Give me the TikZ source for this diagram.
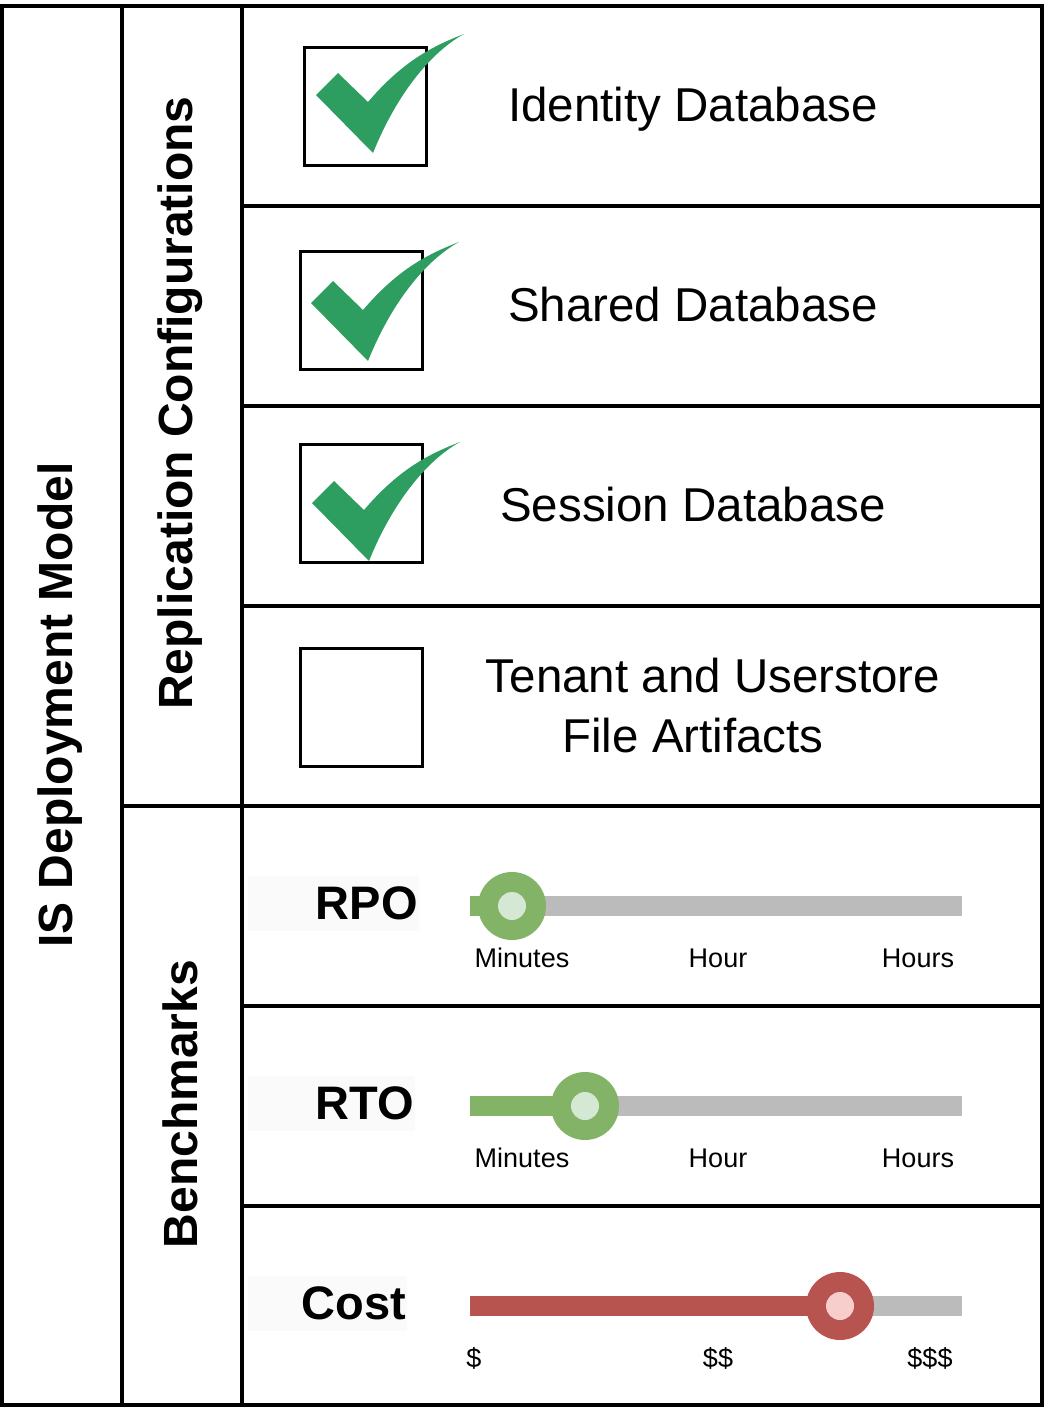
\documentclass[tikz,border=0pt]{standalone}
\usepackage{fontspec}
\setmainfont{Liberation Sans}
\definecolor{tickgreen}{RGB}{46,158,96}
\definecolor{knobgreen}{RGB}{130,179,102}
\definecolor{knobgreenlight}{RGB}{213,232,212}
\definecolor{knobred}{RGB}{184,84,80}
\definecolor{knobredlight}{RGB}{248,206,204}
\definecolor{trackgray}{RGB}{187,187,187}
\definecolor{labelbg}{RGB}{250,250,250}
\tikzstyle{grid}=[line width=4pt, black]
\tikzstyle{heading}=[rotate=90, font=\fontsize{48}{58}\selectfont\bfseries]
\tikzstyle{item}=[align=center, font=\fontsize{47.5}{60}\selectfont]
\tikzstyle{box}=[draw, line width=3pt, minimum width=122pt, minimum height=118pt, anchor=north west]
\tikzstyle{bench}=[fill=labelbg, anchor=east, align=right, inner sep=1pt, minimum height=55pt, font=\fontsize{47}{56}\selectfont\bfseries]
\tikzstyle{ticklabel}=[font=\fontsize{27}{32}\selectfont]
\tikzstyle{track}=[line width=20pt, trackgray]
\tikzstyle{knob}=[circle, minimum size=68pt, inner sep=0pt]
\newcommand{\tickmark}[1]{%
  \fill[tickgreen, shift={(#1)}] (13,49) -- (35,27) -- (65,56)
    .. controls (100,15) and (130,0) .. (161,-12)
    .. controls (130,5) and (95,45) .. (70,107) -- cycle;}
\begin{document}
\begin{tikzpicture}[x=1pt, y=-1pt]
                    \useasboundingbox (0,0) rectangle (1049,1408);
                    % frame and cells
                    \draw[grid] (2,6) rectangle (1041.5,1405);
                    \draw[grid] (122,6) -- (122,1405);
                    \draw[grid] (242,6) -- (242,1405);
                    \draw[grid] (242,206) -- (1041.5,206);
                    \draw[grid] (242,406) -- (1041.5,406);
                    \draw[grid] (242,606) -- (1041.5,606);
                    \draw[grid] (122,806) -- (1041.5,806);
                    \draw[grid] (242,1006) -- (1041.5,1006);
                    \draw[grid] (242,1206) -- (1041.5,1206);
                    \node[heading] (model) at (60,705) {IS Deployment Model};
                    \node[heading] (replication) at (180,403) {Replication Configurations};
                    \node[heading] (benchmarks) at (180,1104) {Benchmarks};
                    % replication items
                    \node[box] (box1) at (303,46) {};
                    \node[box] (box2) at (299,250) {};
                    \node[box] (box3) at (299,443) {};
                    \node[box] (box4) at (299,647) {};
                    \tickmark{303,46}
                    \tickmark{298,254}
                    \tickmark{299,454}
                    \node[item, anchor=base] (identity) at (693,121) {Identity Database};
                    \node[item, anchor=base] (shared) at (693,321) {Shared Database};
                    \node[item, anchor=base] (session) at (693,521) {Session Database};
                    \node[item] (tenant) at (713,706) {Tenant and Userstore\\File Artifacts\rule{40pt}{0pt}};
                    % benchmarks
                    \node[bench, text width=169pt] (rpo) at (419,903) {RPO};
                    \node[bench, text width=165pt] (rto) at (415,1103) {RTO};
                    \node[bench, text width=157pt] (cost) at (407,1303) {Cost};
                    \coordinate (rpostart) at (470,906);
                    \coordinate (rpoend) at (962,906);
                    \coordinate (rpoat) at (512,906);
                    \coordinate (rtostart) at (470,1106);
                    \coordinate (rtoend) at (962,1106);
                    \coordinate (rtoat) at (585,1106);
                    \coordinate (coststart) at (470,1306);
                    \coordinate (costend) at (962,1306);
                    \coordinate (costat) at (840,1306);
                    \draw[track] (rpoat) -- (rpoend);
                    \draw[track] (rtoat) -- (rtoend);
                    \draw[track] (costat) -- (costend);
                    \draw[track, knobgreen] (rpostart) -- (rpoat);
                    \draw[track, knobgreen] (rtostart) -- (rtoat);
                    \draw[track, knobred] (coststart) -- (costat);
                    \node[knob, fill=knobgreen] (rpoknob) at (rpoat) {};
                    \node[knob, fill=knobgreen] (rtoknob) at (rtoat) {};
                    \node[knob, fill=knobred] (costknob) at (costat) {};
                    \fill[knobgreenlight] (rpoknob) circle (14);
                    \fill[knobgreenlight] (rtoknob) circle (14);
                    \fill[knobredlight] (costknob) circle (14);
                    \node[ticklabel] (rpomin) at (522,958) {Minutes};
                    \node[ticklabel] (rpohour) at (718,958) {Hour};
                    \node[ticklabel] (rpohours) at (918,958) {Hours};
                    \node[ticklabel] (rtomin) at (522,1158) {Minutes};
                    \node[ticklabel] (rtohour) at (718,1158) {Hour};
                    \node[ticklabel] (rtohours) at (918,1158) {Hours};
                    \node[ticklabel] (costlow) at (474,1358) {\$};
                    \node[ticklabel] (costmid) at (718,1358) {\$\$};
                    \node[ticklabel] (costhigh) at (930,1358) {\$\$\$};
                \end{tikzpicture}
\end{document}
